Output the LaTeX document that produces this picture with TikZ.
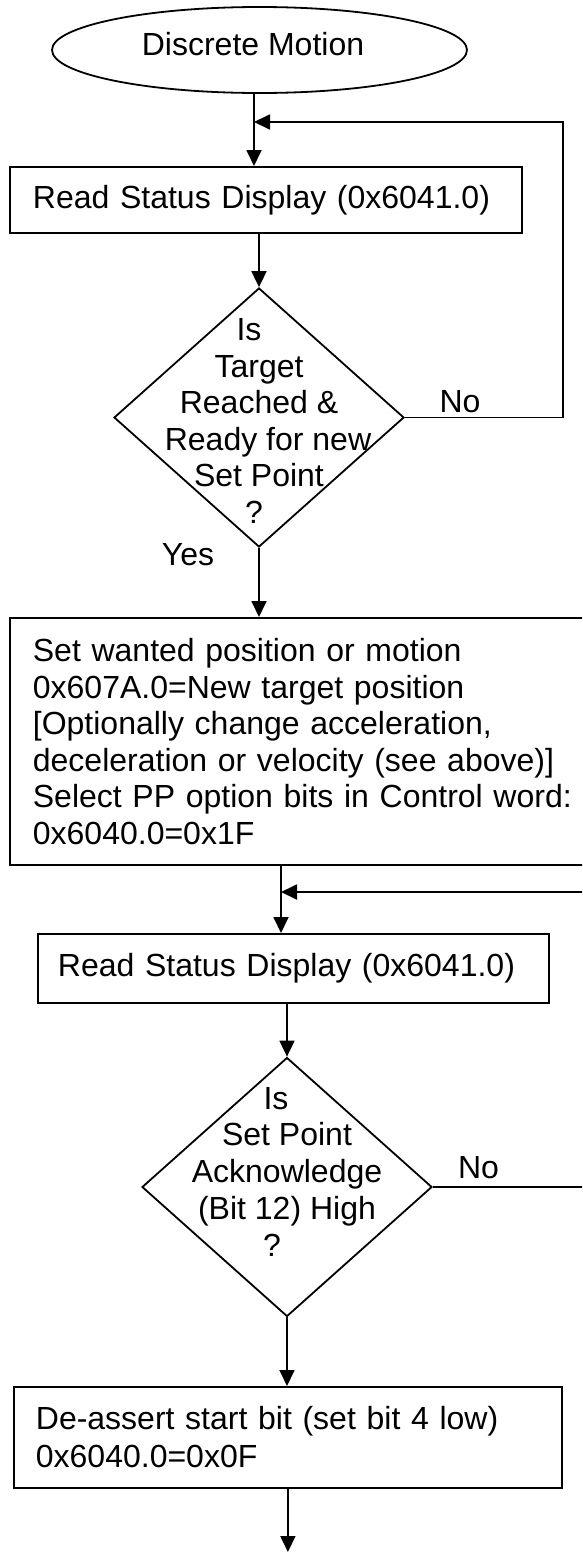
\documentclass[tikz,border=0pt]{standalone}
\usepackage{fontspec}
\setmainfont{Liberation Sans}
\usetikzlibrary{arrows.meta,shapes.geometric}
\begin{document}
\begin{tikzpicture}[x=1pt,y=-1pt, line width=1.8pt,
  every node/.style={font=\fontsize{32}{36.5}\selectfont, inner sep=0pt},
  arr/.style={-{Triangle[length=16pt,width=15pt]}},
  procbox/.style={draw, rectangle, anchor=north west, align=left, inner ysep=0pt},
  decision/.style={draw, diamond, minimum width=290pt, minimum height=259pt, inner sep=0pt},
  lbl/.style={inner sep=0pt}]
\useasboundingbox (0,0) rectangle (582,1553);
\clip (0,0) rectangle (582,1553);

% start
\node[draw, ellipse, minimum width=415pt, minimum height=86pt] (start) at (259.5,50) {};
\node (starttext) at (253,44) {Discrete Motion};

\coordinate (c1) at (254,122);
\coordinate (r1) at (563,122);

\node[procbox, minimum width=512pt, minimum height=66pt, text width=466pt, inner xsep=23pt] (box1) at (9,166) {Read Status Display (0x6041.0)};

\node[decision] (d1) at (259,417.5) {};
\node[align=center] (d1text) at (259,421) {Is\hspace*{20pt}\\Target\hspace*{22pt}\\Reached \&\hspace*{30pt}\\\hspace*{18pt}Ready for new\\Set Point\\?\hspace*{10pt}};
\node[lbl] (no1) at (460,402) {No};
\node[lbl] (yes1) at (188,555) {Yes};

\node[procbox, minimum width=591pt, minimum height=247pt, text width=545pt, inner xsep=23pt] (box2) at (9,617) {Set wanted position or motion\\0x607A.0=New target position\\{[}Optionally change acceleration,\\deceleration or velocity (see above){]}\\Select PP option bits in Control word:\\0x6040.0=0x1F};

\coordinate (c2) at (281,892);
\coordinate (r2) at (592,892);

\node[procbox, minimum width=511pt, minimum height=69pt, text width=471pt, inner xsep=20pt] (box3) at (37,933) {Read Status Display (0x6041.0)};

\node[decision] (d2) at (287,1187) {};
\node[align=center, font=\fontsize{32}{36.75}\selectfont] (d2text) at (287,1171.5) {Is\hspace*{22pt}\\Set Point\hspace*{8pt}\\Acknowledge\hspace*{2pt}\\(Bit 12) High\hspace*{14pt}\\?\hspace*{30pt}};
\node[lbl] (no2) at (478.5,1168) {No};

\node[procbox, minimum width=548pt, minimum height=101pt, text width=504pt, inner xsep=22pt, font=\fontsize{32}{38}\selectfont] (box4) at (13,1386) {De-assert start bit (set bit 4 low)\\0x6040.0=0x0F};

\coordinate (endpt) at (287,1552);

% connectors
\draw[arr] (start.south -| c1) -- (box1.north -| c1);
\draw[arr] (d1.east) -- (d1.east -| r1) -- (r1) -- (c1);
\draw[arr] (box1.south -| d1.north) -- (d1.north);
\draw[arr] (d1.south) -- (d1.south |- box2.north);
\draw[arr] (box2.south -| c2) -- (box3.north -| c2);
\draw[arr] (d2.east) -- (d2.east -| r2) -- (r2) -- (c2);
\draw[arr] (box3.south -| d2.north) -- (d2.north);
\draw[arr] (d2.south) -- (d2.south |- box4.north);
\draw[arr] (box4.south) -- (box4.south |- endpt);
\end{tikzpicture}
\end{document}
